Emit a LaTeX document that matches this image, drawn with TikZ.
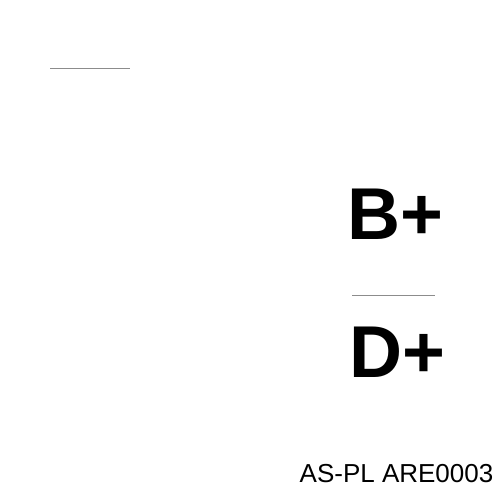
\documentclass[tikz,border=0pt]{standalone}
\usepackage{fontspec}
\setmainfont{Liberation Sans}
\begin{document}
\begin{tikzpicture}[x=0.02cm,y=-0.02cm,
  big/.style={inner sep=0pt,font=\fontsize{41.8}{45}\selectfont\bfseries},
  small/.style={inner sep=0pt,font=\fontsize{14.8}{17}\selectfont},
  rule/.style={draw=black!45,line width=0.5pt}]
\useasboundingbox[fill=white] (0,0) rectangle (500,500);
\coordinate (l1a) at (50,68);
\coordinate (l1b) at (130,68);
\coordinate (l2a) at (352,295);
\coordinate (l2b) at (435,295);
\draw[rule] (l1a) -- (l1b);
\draw[rule] (l2a) -- (l2b);
\node[big] (bp) at (395.5,214) {B+};
\node[big] (dp) at (397.5,352) {D+};
\node[small] (lbl) at (396.5,474) {AS-PL ARE0003};
\end{tikzpicture}
\end{document}
